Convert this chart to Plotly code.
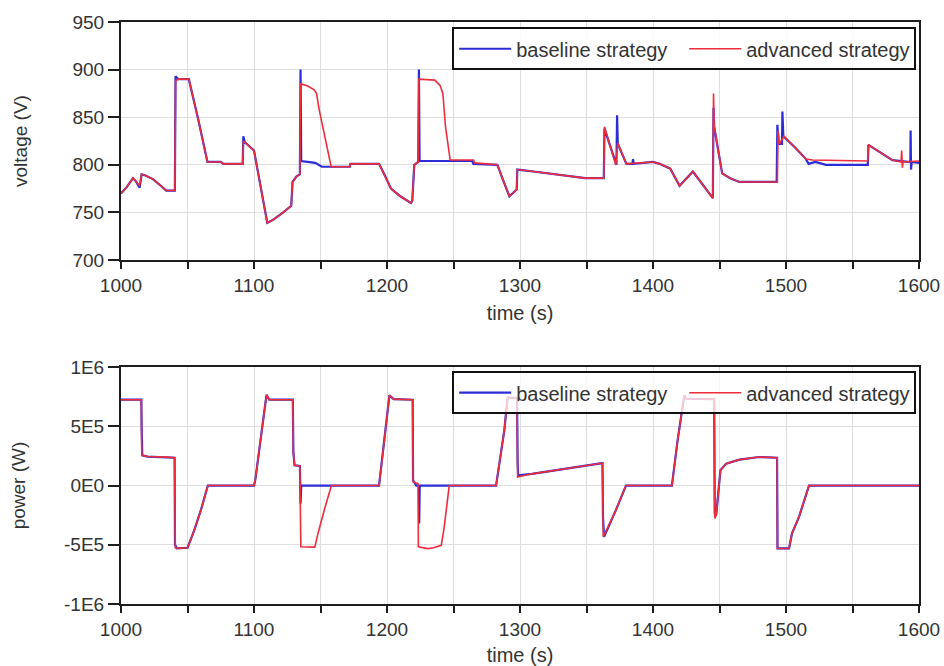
import plotly.graph_objects as go

# ---- voltage (V) ----
t_v_adv = [1000, 1004, 1009, 1011, 1014, 1015.5, 1018, 1024, 1030, 1034, 1040.5, 1041, 1043, 1051,
           1058, 1065, 1075, 1077, 1091.5, 1092, 1100, 1110, 1114, 1122, 1128, 1129, 1132, 1134.5,
           1135, 1140, 1145, 1147, 1149, 1158, 1172, 1172.5, 1194, 1198, 1203, 1210, 1218, 1219,
           1220.5, 1223.5, 1224, 1236, 1240, 1242, 1244, 1247.5, 1265, 1266, 1283, 1287, 1292,
           1297.5, 1298, 1310, 1320, 1332, 1349, 1363, 1363.5, 1372, 1373.5, 1380, 1400, 1405,
           1413, 1420, 1430, 1445, 1445.5, 1446, 1449, 1452, 1458, 1465, 1493.5, 1494, 1495,
           1498.5, 1507, 1515, 1520, 1561.5, 1562, 1580, 1586.5, 1587, 1587.5, 1588, 1600]
v_adv = [770, 776, 786, 783, 778, 790, 789, 785, 778, 773, 773, 888, 890, 890,
         848, 803, 803, 801, 801, 825, 815, 739, 742, 750, 757, 782, 788, 790,
         885, 883, 879, 875, 858, 798, 798, 801, 801, 790, 775, 767, 760, 762,
         800, 803, 890, 889, 883, 875, 840, 805, 805, 802, 800, 785, 767,
         774, 795, 793, 791, 789, 786, 786, 840, 800, 823, 801, 803, 801,
         796, 778, 793, 765, 875, 840, 815, 791, 786, 782, 782, 836, 822,
         830, 818, 806, 805, 804, 821, 805, 803, 815, 797, 803, 804]

t_v_base = [1000, 1004, 1009, 1011, 1014, 1015.5, 1018, 1024, 1030, 1034, 1040.5, 1041, 1043, 1051,
            1058, 1065, 1075, 1077, 1091.5, 1092, 1093, 1100, 1110, 1114, 1122, 1128, 1129, 1132,
            1134.5, 1135, 1135.5, 1146, 1151, 1172, 1172.5, 1194, 1198, 1203, 1210, 1218, 1219,
            1220.5, 1223.5, 1224, 1224.5, 1264, 1265, 1283, 1287, 1292, 1297.5, 1298, 1310, 1320,
            1332, 1349, 1363, 1363.5, 1372.5, 1373, 1373.5, 1380, 1384.5, 1385, 1385.5, 1400, 1405,
            1413, 1420, 1430, 1445, 1445.5, 1446, 1449, 1452, 1458, 1465, 1493, 1493.5, 1494.5,
            1497, 1497.3, 1498, 1507, 1515, 1517, 1522, 1530, 1561.5, 1562, 1580, 1593.5, 1593.7,
            1594, 1594.5, 1600]
v_base = [770, 776, 786, 783, 776, 790, 789, 785, 778, 773, 773, 893, 890, 890,
          848, 803, 803, 801, 801, 830, 824, 815, 739, 742, 750, 757, 782, 788,
          790, 900, 804, 802, 798, 798, 801, 801, 790, 775, 767, 760, 762,
          800, 803, 900, 804, 804, 801, 800, 785, 767, 774, 795, 793, 791,
          789, 786, 786, 838, 800, 852, 822, 801, 801, 806, 801, 803, 801,
          796, 778, 793, 765, 860, 840, 815, 791, 786, 782, 782, 842, 822,
          822, 856, 830, 818, 806, 801, 803, 800, 800, 821, 805, 803, 836,
          795, 803, 802]

# ---- power (W) ----
t_p_adv = [1000, 1015.3, 1015.6, 1020, 1035, 1040.3, 1040.8, 1043, 1050, 1055, 1060, 1065.3, 1100,
           1101, 1109.4, 1111.5, 1129.2, 1129.6, 1130.5, 1134.5, 1135.2, 1145.7, 1148.2, 1150.5,
           1153, 1158.2, 1194, 1198, 1201.8, 1205, 1219.3, 1219.6, 1223.3, 1223.6, 1230.8, 1235,
           1240.8, 1243, 1246.8, 1282, 1288.2, 1290.7, 1291.5, 1297.8, 1298.2, 1309, 1334.5, 1362,
           1362.6, 1372, 1379.7, 1414.2, 1418.5, 1423.5, 1425, 1446, 1446.5, 1447.5, 1450.7, 1455,
           1465, 1479.8, 1493.3, 1493.6, 1502.3, 1504.5, 1509.8, 1517.3, 1600]
p_adv = [725000, 725000, 255000, 245000, 240000, 235000, -525000, -530000, -525000, -380000, -210000, 0, 0,
         50000, 766000, 725000, 725000, 280000, 171000, 165000, -517000, -520000, -400000, -300000,
         -200000, 0, 0, 382000, 761000, 730000, 725000, 30000, 17000, -517000, -532000, -525000,
         -505000, -350000, 0, 0, 466000, 747000, 740000, 740000, 72500, 99000, 143000, 190000,
         -433000, -210000, 0, 0, 382000, 761000, 733000, 730000, -278000, -250000, 129000, 185000,
         219000, 241000, 235000, -531000, -531000, -404000, -264000, 0, 0]

t_p_base = [1000, 1015.3, 1015.5, 1016, 1020, 1035, 1040.3, 1040.6, 1042, 1050, 1055, 1060, 1065.3, 1100,
            1101, 1109.4, 1111.5, 1129.2, 1129.6, 1130.5, 1134.5, 1135, 1135.5, 1194, 1198, 1201.8,
            1205, 1219.3, 1219.6, 1222, 1224, 1224.2, 1224.6, 1282, 1288.2, 1290.7, 1291.5, 1297.8,
            1298.2, 1298.6, 1309, 1334.5, 1362, 1362.4, 1363.2, 1372, 1379.7, 1414.2, 1418.5, 1423.5,
            1425, 1446, 1446.4, 1447.5, 1450.7, 1455, 1465, 1479.8, 1493.3, 1493.6, 1502.3, 1504.5,
            1509.8, 1517.3, 1600]
p_base = [725000, 725000, 494000, 255000, 245000, 240000, 235000, -500000, -530000, -525000, -380000, -210000, 0, 0,
          50000, 766000, 725000, 725000, 280000, 171000, 165000, -152000, 0, 0, 382000, 761000,
          730000, 725000, 45000, 0, 0, -320000, 0, 0, 466000, 747000, 740000, 740000,
          199000, 86000, 99000, 143000, 190000, -264000, -433000, -210000, 0, 0, 382000, 761000,
          733000, 730000, -236000, -250000, 129000, 185000, 219000, 241000, 235000, -531000, -531000, -404000,
          -264000, 0, 0]

x_ticks = [1000, 1100, 1200, 1300, 1400, 1500, 1600]
v_ticks = [700, 750, 800, 850, 900, 950]
p_ticks = [-1000000, -500000, 0, 500000, 1000000]
p_tick_text = ["-1E6", "-5E5", "0E0", "5E5", "1E6"]

BLUE = "rgb(45,45,215)"
RED = "rgb(238,45,60)"
FONT = "Liberation Sans, Arial, sans-serif"
GRID = "#dedede"
AXIS = "#1e1e1e"
TEXT = "#333"

fig = go.Figure()
fig.add_trace(go.Scatter(x=t_v_base, y=v_base, mode="lines", name="baseline strategy",
                         line=dict(color=BLUE, width=2.2), xaxis="x", yaxis="y", legend="legend"))
fig.add_trace(go.Scatter(x=t_v_adv, y=v_adv, mode="lines", name="advanced strategy",
                         line=dict(color=RED, width=1.6), xaxis="x", yaxis="y", legend="legend"))
fig.add_trace(go.Scatter(x=t_p_base, y=p_base, mode="lines", name="baseline strategy",
                         line=dict(color=BLUE, width=2.2), xaxis="x2", yaxis="y2", legend="legend2"))
fig.add_trace(go.Scatter(x=t_p_adv, y=p_adv, mode="lines", name="advanced strategy",
                         line=dict(color=RED, width=1.6), xaxis="x2", yaxis="y2", legend="legend2"))

xaxis_common = dict(
    range=[1000, 1600], tickvals=x_ticks, ticks="outside", ticklen=7, tickwidth=1.5, tickcolor=AXIS,
    showline=True, linecolor=AXIS, linewidth=2, mirror=True, showgrid=True, gridcolor=GRID,
    minor=dict(dtick=50, tick0=1000, ticks="outside", ticklen=7, tickwidth=1.5, tickcolor=AXIS,
               showgrid=True, gridcolor=GRID),
    tickfont=dict(size=19, color=TEXT), ticklabelstandoff=0, zeroline=False, automargin=False,
    title=dict(text="time (s)", font=dict(size=20, color=TEXT), standoff=11),
)
yaxis_common = dict(
    ticks="outside", ticklen=11, tickwidth=1.5, tickcolor=AXIS, showline=True, linecolor=AXIS,
    linewidth=2, mirror=True, showgrid=True, gridcolor=GRID, zeroline=False, automargin=False,
    tickfont=dict(size=19, color=TEXT),
)
legend_common = dict(
    xanchor="left", yanchor="top", orientation="h", bordercolor="#111", borderwidth=2,
    font=dict(size=20, color=TEXT), itemwidth=52, entrywidth=163, traceorder="normal",
)

fig.update_layout(
    width=944, height=666, autosize=False,
    margin=dict(l=121, r=25, t=22, b=62),
    paper_bgcolor="white", plot_bgcolor="white",
    font=dict(family=FONT, color=TEXT),
    xaxis=dict(domain=[0, 1], anchor="y", **xaxis_common),
    yaxis=dict(domain=[0.591, 1], anchor="x", range=[700, 950], tickvals=v_ticks,
               title=dict(text="voltage (V)", font=dict(size=19, color=TEXT), standoff=40),
               **yaxis_common),
    xaxis2=dict(domain=[0, 1], anchor="y2", **xaxis_common),
    yaxis2=dict(domain=[0, 0.407], anchor="x2", range=[-1000000, 1000000], tickvals=p_ticks,
                ticktext=p_tick_text,
                title=dict(text="power (W)", font=dict(size=19, color=TEXT), standoff=33),
                **yaxis_common),
    legend=dict(x=0.415, y=0.991, bgcolor="rgba(255,255,255,0.85)", **legend_common),
    legend2=dict(x=0.415, y=0.400, bgcolor="rgba(255,255,255,0.75)", **legend_common),
)

fig.write_html("out.html")
